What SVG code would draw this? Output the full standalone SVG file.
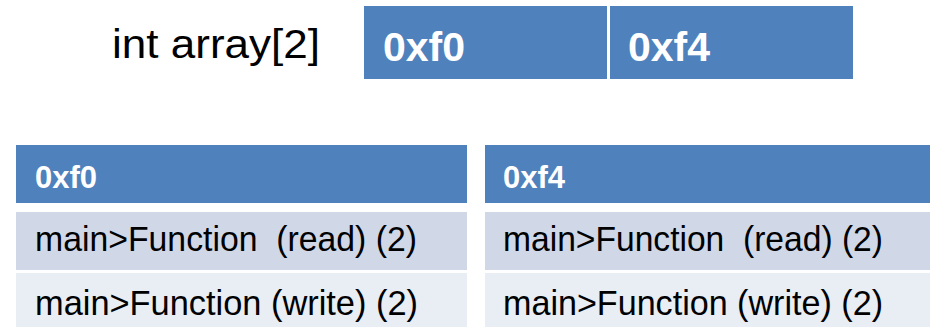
<svg xmlns="http://www.w3.org/2000/svg" width="930" height="327" viewBox="0 0 930 327">
  <style>
    .hdr { fill: #4F81BD; }
    .row1 { fill: #D0D8E8; }
    .row2 { fill: #E9EDF4; }
    .label { font-family: "Liberation Sans", Arial, sans-serif; fill: #000000; }
    .bold { font-family: "Liberation Sans", Arial, sans-serif; font-weight: bold; fill: #FFFFFF; }
    .cell { font-family: "Liberation Sans", Arial, sans-serif; font-size: 35px; fill: #000000; white-space: pre; }
  </style>
  <rect width="930" height="327" fill="#FFFFFF"/>

  <!-- declaration and the two array slots -->
  <g id="decl">
    <text class="label" x="112" y="58" font-size="41" textLength="208" lengthAdjust="spacingAndGlyphs">int array[2]</text>
  </g>
  <g id="slot-0xf0">
    <rect class="hdr" x="364" y="6" width="243" height="73"/>
    <text class="bold" x="383" y="61" font-size="41">0xf0</text>
  </g>
  <g id="slot-0xf4">
    <rect class="hdr" x="610" y="6" width="243" height="73"/>
    <text class="bold" x="628" y="61" font-size="41">0xf4</text>
  </g>

  <!-- access table for 0xf0 -->
  <g id="table-0xf0">
    <rect class="hdr" x="16" y="145" width="451" height="58"/>
    <rect class="row1" x="16" y="212" width="451" height="58"/>
    <rect class="row2" x="16" y="273" width="451" height="54"/>
    <text class="bold" x="35" y="188" font-size="31">0xf0</text>
    <text class="cell" x="35" y="251" xml:space="preserve" textLength="382" lengthAdjust="spacingAndGlyphs">main&gt;Function  (read) (2)</text>
    <text class="cell" x="35" y="315" textLength="383" lengthAdjust="spacingAndGlyphs">main&gt;Function (write) (2)</text>
  </g>

  <!-- access table for 0xf4 -->
  <g id="table-0xf4">
    <rect class="hdr" x="485" y="145" width="445" height="58"/>
    <rect class="row1" x="485" y="212" width="445" height="58"/>
    <rect class="row2" x="485" y="273" width="445" height="54"/>
    <text class="bold" x="503" y="188" font-size="31">0xf4</text>
    <text class="cell" x="503" y="251" xml:space="preserve" textLength="380" lengthAdjust="spacingAndGlyphs">main&gt;Function  (read) (2)</text>
    <text class="cell" x="503" y="315" textLength="380" lengthAdjust="spacingAndGlyphs">main&gt;Function (write) (2)</text>
  </g>

  <g id="connectors"/>
</svg>
